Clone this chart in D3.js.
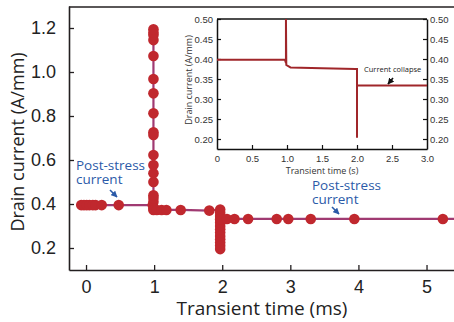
<!DOCTYPE html>
<html>
<head>
<meta charset="utf-8">
<script src="https://cdn.jsdelivr.net/npm/d3@7"></script>
<style>
  body { margin: 0; background: #fff; }
  svg { display: block; font-family: "Open Sans", sans-serif; }
</style>
</head>
<body>
<div id="chart"></div>
<script>
// main series: transient time (ms) vs drain current (A/mm)
var mainTime = [-0.07, -0.03, 0.01, 0.05, 0.1, 0.14, 0.23, 0.48,
    0.98, 0.99, 0.99, 0.99, 0.99, 0.99, 0.99, 0.99, 0.99, 0.99, 0.99, 0.99, 0.99, 0.99, 0.99, 0.99, 0.99, 0.99,
    0.99, 0.99, 1.04, 1.11, 1.18, 1.39, 1.81,
    1.97, 1.97, 1.97, 1.97, 1.97, 1.97, 1.97, 1.97, 1.97, 1.97, 1.97, 1.97, 1.97, 1.97,
    2.07, 2.18, 2.38, 2.8, 2.97, 3.3, 3.94, 5.24, 5.7];
var mainCurrent = [0.395, 0.395, 0.395, 0.395, 0.395, 0.395, 0.395, 0.395,
    0.395, 0.41, 0.427, 0.44, 0.50, 0.54, 0.577, 0.623, 0.714, 0.726, 0.812, 0.903, 0.968, 1.073, 1.145, 1.168, 1.18, 1.194,
    0.38, 0.373, 0.373, 0.373, 0.373, 0.373, 0.37,
    0.375, 0.36, 0.345, 0.33, 0.315, 0.30, 0.285, 0.27, 0.255, 0.24, 0.225, 0.21, 0.195, 0.332,
    0.332, 0.332, 0.332, 0.332, 0.332, 0.332, 0.332, 0.332, 0.332];
var mainDots = mainTime.map(function(t, i) { return i < mainTime.length - 1; });

// inset series: transient time (s) vs drain current (A/mm)
var insetTime = [0, 0.97, 0.985, 0.985, 0.99, 1.05, 1.5, 1.98, 2.0, 2.0, 2.0, 3.0];
var insetCurrent = [0.398, 0.398, 0.39, 0.50, 0.385, 0.379, 0.377, 0.375, 0.375, 0.203, 0.334, 0.334];

var mainYTicks = [0.2, 0.4, 0.6, 0.8, 1.0, 1.2];
var mainXTicks = [0, 1, 2, 3, 4, 5];
var insetYTicks = [0.20, 0.25, 0.30, 0.35, 0.40, 0.45, 0.50];
var insetXTicks = [0, 0.5, 1.0, 1.5, 2.0, 2.5, 3.0];

var W = 454, H = 322;
var axisColor = "#231f20", dotColor = "#c0282e", lineColor = "#a03a72",
    insetColor = "#a0262a", noteColor = "#2b5aa8";

var svg = d3.select("#chart").append("svg")
    .attr("width", W)
    .attr("height", H);

var defs = svg.append("defs");
defs.append("marker").attr("id", "blueHead")
    .attr("viewBox", "0 0 10 10").attr("refX", 9).attr("refY", 5)
    .attr("markerWidth", 4).attr("markerHeight", 4).attr("orient", "auto")
  .append("path").attr("d", "M0,0L10,5L0,10Z").attr("fill", noteColor);
defs.append("marker").attr("id", "blackHead")
    .attr("viewBox", "0 0 10 10").attr("refX", 9).attr("refY", 5)
    .attr("markerWidth", 4).attr("markerHeight", 4).attr("orient", "auto")
  .append("path").attr("d", "M0,0L10,5L0,10Z").attr("fill", "#111");

// main scales
var x = d3.scaleLinear().domain([-0.25, 5.5]).range([69, 69 + 5.75 * 68.1]);
var y = d3.scaleLinear().domain([0.1, 1.3]).range([270, 6]);

var gx = svg.append("g")
    .attr("transform", "translate(0,270)")
    .call(d3.axisBottom(x).tickValues(mainXTicks).tickFormat(d3.format("d"))
        .tickSizeInner(-5).tickSizeOuter(0).tickPadding(10));
var gy = svg.append("g")
    .attr("transform", "translate(69,0)")
    .call(d3.axisLeft(y).tickValues(mainYTicks).tickFormat(d3.format(".1f"))
        .tickSizeInner(-5).tickSizeOuter(0).tickPadding(13));
[gx, gy].forEach(function(g) {
    g.select(".domain").attr("stroke", axisColor).attr("stroke-width", 1.6);
    g.selectAll(".tick line").attr("stroke", axisColor).attr("stroke-width", 1.3);
    g.selectAll(".tick text").attr("fill", "#222").style("font-size", "18px");
});
// top frame line
svg.append("line")
    .attr("x1", x.range()[0]).attr("x2", x.range()[1])
    .attr("y1", y.range()[1] + 1).attr("y2", y.range()[1] + 1)
    .attr("stroke", axisColor).attr("stroke-width", 1.6);

svg.append("text")
    .attr("x", 262).attr("y", 315)
    .attr("text-anchor", "middle")
    .style("font-size", "19px").attr("fill", "#222")
    .text("Transient time (ms)");
svg.append("text")
    .attr("transform", "translate(24,142) rotate(-90)")
    .attr("text-anchor", "middle")
    .style("font-size", "18px").attr("fill", "#222")
    .text("Drain current (A/mm)");

var mainData = mainTime.map(function(t, i) { return {t: t, v: mainCurrent[i], dot: mainDots[i]}; });

svg.append("path")
    .datum(mainData)
    .attr("fill", "none")
    .attr("stroke", lineColor)
    .attr("stroke-width", 2.2)
    .attr("d", d3.line().x(function(d) { return x(d.t); }).y(function(d) { return y(d.v); }));

svg.selectAll(".dot")
    .data(mainData.filter(function(d) { return d.dot; }))
  .enter().append("circle")
    .attr("class", "dot")
    .attr("cx", function(d) { return x(d.t); })
    .attr("cy", function(d) { return y(d.v); })
    .attr("r", 5.3)
    .attr("fill", dotColor);

// annotations
function note(lines, px, py) {
    var t = svg.append("text")
        .attr("x", px).attr("y", py)
        .attr("fill", noteColor)
        .style("font-size", "13.5px");
    lines.forEach(function(s, i) {
        t.append("tspan").attr("x", px).attr("dy", i ? "1.05em" : 0).text(s);
    });
}
note(["Post-stress", "current"], 76, 170);
note(["Post-stress", "current"], 312, 190);
svg.append("line").attr("x1", 110).attr("y1", 190).attr("x2", 117).attr("y2", 197)
    .attr("stroke", noteColor).attr("stroke-width", 1.6).attr("marker-end", "url(#blueHead)");
svg.append("line").attr("x1", 332).attr("y1", 207).attr("x2", 339).attr("y2", 214)
    .attr("stroke", noteColor).attr("stroke-width", 1.6).attr("marker-end", "url(#blueHead)");

// inset
var ix = d3.scaleLinear().domain([0, 3]).range([217, 427]);
var iy = d3.scaleLinear().domain([0.175, 0.5]).range([149, 19]);
var inset = svg.append("g");

var gix = inset.append("g").attr("transform", "translate(0,149)")
    .call(d3.axisBottom(ix).tickValues(insetXTicks).tickFormat(function(d) { return d === 0 ? "0" : d3.format(".1f")(d); })
        .tickSizeInner(-4).tickSizeOuter(0).tickPadding(6));
var giy = inset.append("g").attr("transform", "translate(217,0)")
    .call(d3.axisLeft(iy).tickValues(insetYTicks).tickFormat(d3.format(".2f"))
        .tickSizeInner(-4).tickSizeOuter(0).tickPadding(4));
var giy2 = inset.append("g").attr("transform", "translate(427,0)")
    .call(d3.axisRight(iy).tickValues(insetYTicks).tickFormat(d3.format(".2f"))
        .tickSizeInner(-4).tickSizeOuter(0).tickPadding(3));
[gix, giy, giy2].forEach(function(g) {
    g.select(".domain").attr("stroke", "#111").attr("stroke-width", 1.5);
    g.selectAll(".tick line").attr("stroke", "#111").attr("stroke-width", 1.2);
    g.selectAll(".tick text").attr("fill", "#333").style("font-size", "9.5px");
});
gix.selectAll(".tick").filter(function(d) { return d === 0 || d === 3; }).select("line").remove();
inset.append("line")
    .attr("x1", ix.range()[0]).attr("x2", ix.range()[1])
    .attr("y1", iy.range()[1]).attr("y2", iy.range()[1])
    .attr("stroke", "#111").attr("stroke-width", 1.5);

inset.append("text")
    .attr("x", 322).attr("y", 174)
    .attr("text-anchor", "middle")
    .style("font-size", "9px").attr("fill", "#333")
    .text("Transient time (s)");
inset.append("text")
    .attr("transform", "translate(192,80) rotate(-90)")
    .attr("text-anchor", "middle")
    .style("font-size", "9px").attr("fill", "#333")
    .text("Drain current (A/mm)");

inset.append("path")
    .datum(insetTime.map(function(t, i) { return [t, insetCurrent[i]]; }))
    .attr("fill", "none")
    .attr("stroke", insetColor)
    .attr("stroke-width", 2)
    .attr("d", d3.line().x(function(d) { return ix(d[0]); }).y(function(d) { return iy(d[1]); }));

inset.append("text")
    .attr("x", 364).attr("y", 72)
    .style("font-size", "7.5px").attr("fill", "#222")
    .text("Current collapse");
inset.append("line").attr("x1", 393).attr("y1", 78).attr("x2", 388).attr("y2", 84)
    .attr("stroke", "#111").attr("stroke-width", 1.6).attr("marker-end", "url(#blackHead)");
</script>
</body>
</html>
